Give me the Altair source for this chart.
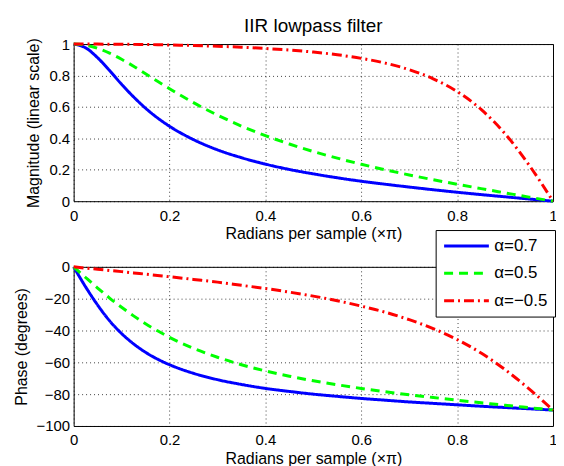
import altair as alt
import pandas as pd

# frequency axis (x pi rad/sample)
freq = [0, 0.025, 0.05, 0.075, 0.1, 0.125, 0.15, 0.175, 0.2, 0.25, 0.3, 0.35, 0.4,
        0.45, 0.5, 0.55, 0.6, 0.65, 0.7, 0.75, 0.8, 0.85, 0.9, 0.95, 1.0]

series_names = ["α=0.7", "α=0.5", "α=−0.5"]
series_colors = ["#0000ff", "#00ff00", "#ff0000"]

mag_a07 = [1.000, 0.976, 0.913, 0.831, 0.744, 0.664, 0.592, 0.530, 0.477, 0.392, 0.327,
           0.277, 0.236, 0.202, 0.174, 0.149, 0.127, 0.108, 0.090, 0.073, 0.057, 0.042,
           0.028, 0.014, 0.000]
mag_a05 = [1.000, 0.993, 0.973, 0.942, 0.903, 0.859, 0.811, 0.763, 0.716, 0.627, 0.548,
           0.478, 0.417, 0.364, 0.316, 0.274, 0.235, 0.200, 0.167, 0.137, 0.108, 0.080,
           0.053, 0.026, 0.000]
mag_am05 = [1.000, 1.000, 1.000, 0.999, 0.999, 0.998, 0.997, 0.996, 0.994, 0.991, 0.986,
            0.980, 0.972, 0.962, 0.949, 0.932, 0.909, 0.879, 0.837, 0.779, 0.698, 0.584,
            0.429, 0.230, 0.000]

ph_a07 = [0, -12.6, -24.0, -33.9, -41.9, -48.4, -53.7, -58.0, -61.5, -66.9, -70.9, -73.9,
          -76.4, -78.3, -80.0, -81.4, -82.7, -83.8, -84.9, -85.8, -86.7, -87.6, -88.4,
          -89.2, -90.0]
ph_a05 = [0, -6.7, -13.3, -19.6, -25.4, -30.8, -35.8, -40.2, -44.3, -51.2, -56.8, -61.5,
          -65.4, -68.7, -71.6, -74.1, -76.4, -78.5, -80.4, -82.1, -83.8, -85.4, -87.0,
          -88.5, -90.0]
ph_am05 = [0, -0.8, -1.5, -2.3, -3.0, -3.8, -4.6, -5.4, -6.2, -7.9, -9.6, -11.6, -13.6,
           -15.9, -18.4, -21.3, -24.7, -28.5, -33.2, -38.8, -45.7, -54.2, -64.6, -76.7,
           -90.0]

x_ticks = [0, 0.2, 0.4, 0.6, 0.8, 1]
mag_ticks = [0, 0.2, 0.4, 0.6, 0.8, 1]
ph_ticks = [-100, -80, -60, -40, -20, 0]

rows = []
for name, mags, phs in zip(series_names, [mag_a07, mag_a05, mag_am05],
                           [ph_a07, ph_a05, ph_am05]):
    for i, (f, m, p) in enumerate(zip(freq, mags, phs)):
        rows.append({"series": name, "f": f, "mag": m, "phase": p, "i": i})
df = pd.DataFrame(rows)

xlabel = "Radians per sample (×π)"

x_enc = alt.X("f:Q", scale=alt.Scale(domain=[0, 1], nice=False),
              axis=alt.Axis(title=xlabel, values=x_ticks, format=".1~f", grid=True,
                            labelFlush=False, labelPadding=7, titlePadding=3))

dash_range = [[1, 0], [9, 6], [10, 4, 2, 4]]

leg = alt.Legend(title=None, orient="none", legendX=364, legendY=187,
                 symbolType="stroke", symbolSize=2025, symbolStrokeWidth=3,
                 labelFontSize=17, labelFont="Liberation Sans", labelColor="black",
                 labelOffset=4, strokeColor="black", fillColor="white",
                 padding=7, clipHeight=18, rowPadding=9.5)

color_enc = alt.Color("series:N", scale=alt.Scale(domain=series_names, range=series_colors),
                      legend=leg)
dash_enc = alt.StrokeDash("series:N", scale=alt.Scale(domain=series_names, range=dash_range),
                          legend=leg)

PW = 482

top = alt.Chart(df).mark_line(strokeWidth=3, interpolate="monotone").encode(
    x=x_enc,
    y=alt.Y("mag:Q", scale=alt.Scale(domain=[0, 1], nice=False),
            axis=alt.Axis(title="Magnitude (linear scale)", values=mag_ticks, format=".1~f",
                          grid=True, labelPadding=4, titlePadding=7)),
    color=color_enc,
    strokeDash=dash_enc,
    order="i:Q",
).properties(width=PW, height=158,
             title=alt.TitleParams("IIR lowpass filter", fontSize=19, fontWeight="normal",
                                   font="Liberation Sans", color="black", anchor="middle",
                                   frame="group", offset=1))

bottom = alt.Chart(df).mark_line(strokeWidth=3, interpolate="monotone").encode(
    x=x_enc,
    y=alt.Y("phase:Q", scale=alt.Scale(domain=[-100, 0], nice=False),
            axis=alt.Axis(title="Phase (degrees)", values=ph_ticks, format="d",
                          grid=True, labelPadding=4, titlePadding=7)),
    color=color_enc,
    strokeDash=dash_enc,
    order="i:Q",
).properties(width=PW, height=160)

chart = alt.vconcat(top, bottom, spacing=16).configure_view(
    stroke="black", strokeWidth=1
).configure_axis(
    labelFont="Liberation Sans", titleFont="Liberation Sans",
    labelFontSize=15, titleFontSize=16, titleFontWeight="normal",
    labelColor="black", titleColor="black",
    domain=False, ticks=False, tickSize=0,
    gridColor="black", gridDash=[1, 3], gridOpacity=0.75, gridWidth=1,
).properties(background="white",
             padding={"left": 4, "top": 7, "right": -4, "bottom": 0})

chart.save("out.html", embed_options={"renderer": "svg", "actions": False})
